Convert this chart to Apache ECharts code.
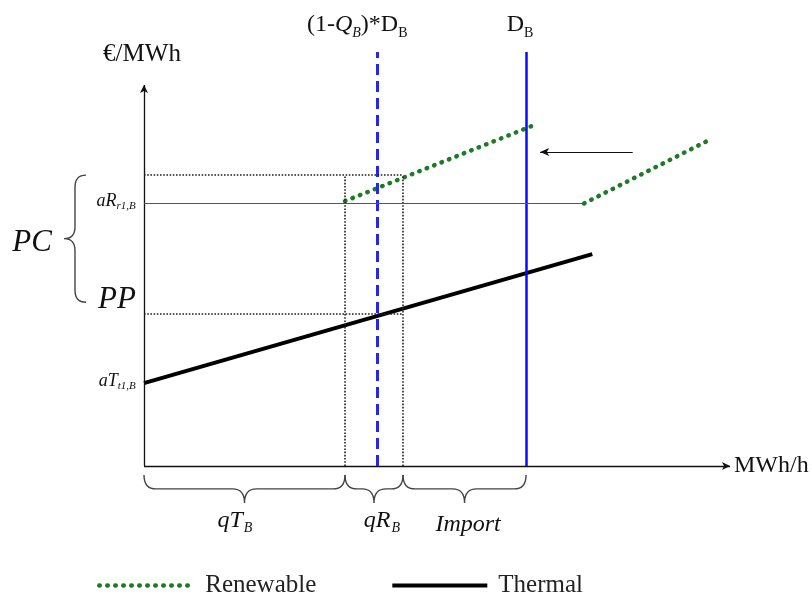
<!DOCTYPE html>
<html><head><meta charset="utf-8">
<script src="https://cdn.jsdelivr.net/npm/echarts@6/dist/echarts.min.js"></script>
<style>html,body{margin:0;padding:0;background:#fff}#c{width:812px;height:598px}</style>
</head><body><div id="c"></div>
<script>
// x: quantity (MWh/h, arbitrary 0-100), y: price (€/MWh, arbitrary 0-110)
const thermalX = [0, 76.5];
const thermalY = [21.4, 54.7];
const renewLeftX = [34.3, 66.7];
const renewLeftY = [68.4, 88.1];
const renewRightX = [75.1, 96.6];
const renewRightY = [67.8, 84.3];
const axisEndX = 100, axisEndY = 98.4;
const demandX = [39.8, 65.2];            // (1-Q_B)*D_B , D_B
const demandTopY = 106.9;
const demandLabels = ['{n|(1-}{i|Q}{is|B}{n|)*D}{s|B}', '{n|D}{s|B}'];
const quantityX = [34.3, 44.2];          // qT_B boundary, qT_B+qR_B boundary
const priceLevels = [75.1, 39.2];        // renewable price, PP
const aRLevel = 67.9, aRLineEnd = 75.3;
const shiftArrowX = [83.4, 67.6], shiftArrowY = 81.1;
// braces: [x1, y1, x2, y2]
const braces = [[0, -2.3, 34.3, -2.3], [34.3, -2.3, 44.2, -2.3], [44.2, -2.3, 65.2, -2.3], [-9.9, 75.1, -9.9, 42.3]];
// annotation texts
const noteText = ['{i|qT}{s|B}', '{i|qR}{s|B}', '{i|Import}', '{b|PC}', '{b|PP}', '{m|aR}{ms|r1,B}', '{m|aT}{ms|t1,B}'];
const noteX = [15.5, 40.6, 55.3, -19.1, -4.6, -1.4, -1.4];
const noteY = [-14.3, -14.3, -15.3, 57.6, 42.9, 68.2, 21.7];
const noteAlign = ['center', 'center', 'center', 'center', 'center', 'right', 'right'];

const FF = '"Liberation Serif", "DejaVu Serif", serif';
const zip = (a, b) => a.map((v, i) => [v, b[i]]);
const rich = {
  i: {fontStyle: 'italic', fontFamily: FF, fontSize: 24, color: '#111', verticalAlign: 'top', lineHeight: 26},
  s: {fontStyle: 'italic', fontFamily: FF, fontSize: 14, color: '#111', verticalAlign: 'top', lineHeight: 14, padding: [13, 0, 0, 1]},
  b: {fontStyle: 'italic', fontFamily: FF, fontSize: 31, color: '#111'},
  m: {fontStyle: 'italic', fontFamily: FF, fontSize: 18, color: '#111', verticalAlign: 'top', lineHeight: 20},
  ms: {fontStyle: 'italic', fontFamily: FF, fontSize: 11, color: '#111', verticalAlign: 'top', lineHeight: 11, padding: [9, 0, 0, 0]}
};
const topRich = {
  i: {fontStyle: 'italic', fontFamily: FF, fontSize: 24, color: '#111', verticalAlign: 'top', lineHeight: 26},
  s: {fontFamily: FF, fontSize: 14, color: '#111', verticalAlign: 'top', lineHeight: 14, padding: [13, 0, 0, 0]},
  is: {fontStyle: 'italic', fontFamily: FF, fontSize: 14, color: '#111', verticalAlign: 'top', lineHeight: 14, padding: [13, 0, 0, 0]},
  n: {fontFamily: FF, fontSize: 24, color: '#111', verticalAlign: 'top', lineHeight: 26}
};
const demandOffsets = [[-20, 0], [-6, 0]];

const lineData = [];
// axes
lineData.push([{coord: [0, 0], symbol: 'none'}, {coord: [axisEndX, 0], symbol: 'arrow', symbolSize: [6, 8],
  label: {show: true, position: 'end', formatter: 'MWh/h', fontFamily: FF, fontSize: 24, color: '#111', distance: 4}}]);
lineData.push([{coord: [0, 0], symbol: 'none'}, {coord: [0, axisEndY], symbol: 'arrow', symbolSize: [6, 8],
  label: {show: true, position: 'end', formatter: '€/MWh', fontFamily: FF, fontSize: 25, color: '#111', distance: 18, offset: [-2, 0]}}]);
// demand lines
demandX.forEach((x, i) => {
  lineData.push([{coord: [x, 0], symbol: 'none'}, {coord: [x, demandTopY], symbol: 'none',
    label: {show: true, position: 'end', distance: 13, offset: demandOffsets[i], formatter: demandLabels[i], rich: topRich},
    lineStyle: i === 0 ? {color: '#2626e8', width: 3, type: [11, 6]} : {color: '#0a0aff', width: 2.5, type: 'solid'}}]);
});
// dotted guides
priceLevels.forEach(y => {
  lineData.push([{coord: [0, y], symbol: 'none'}, {coord: [quantityX[1], y], symbol: 'none', lineStyle: {color: '#222', width: 1.6, type: [1.6, 1.6]}}]);
});
quantityX.forEach(x => {
  lineData.push([{coord: [x, 0], symbol: 'none'}, {coord: [x, priceLevels[0]], symbol: 'none', lineStyle: {color: '#222', width: 1.6, type: [1.6, 1.6]}}]);
});
// aR thin line
lineData.push([{coord: [0, aRLevel], symbol: 'none'}, {coord: [aRLineEnd, aRLevel], symbol: 'none', lineStyle: {color: '#555', width: 1, type: 'solid'}}]);
// shift arrow
lineData.push([{coord: [shiftArrowX[0], shiftArrowY], symbol: 'none'}, {coord: [shiftArrowX[1], shiftArrowY], symbol: 'arrow', symbolSize: [6, 9], lineStyle: {color: '#111', width: 1.2, type: 'solid'}}]);

function bracePath(a, b, depth) {
  const dx = b[0] - a[0], dy = b[1] - a[1];
  const L = Math.hypot(dx, dy);
  const ux = dx / L, uy = dy / L;
  const nx = -uy, ny = ux;
  const h = depth / 2, r = Math.min(12, L / 4);
  const P = (p, s, t) => [p[0] + ux * s + nx * t, p[1] + uy * s + ny * t];
  const m = [(a[0] + b[0]) / 2, (a[1] + b[1]) / 2];
  const f = p => p[0].toFixed(2) + ' ' + p[1].toFixed(2);
  return 'M' + f(a) +
    ' Q' + f(P(a, 0, h)) + ' ' + f(P(a, r, h)) +
    ' L' + f(P(m, -r, h)) +
    ' Q' + f(P(m, 0, h)) + ' ' + f(P(m, 0, depth)) +
    ' Q' + f(P(m, 0, h)) + ' ' + f(P(m, r, h)) +
    ' L' + f(P(b, -r, h)) +
    ' Q' + f(P(b, 0, h)) + ' ' + f(P(b, 0, 0));
}

const renewStyle = {color: '#1f7a28', width: 4.5, type: [0.5, 7.5], cap: 'round'};
const chart = echarts.init(document.getElementById('c'), null, {renderer: 'canvas'});
chart.setOption({
  animation: false,
  backgroundColor: '#fff',
  grid: {left: 144, right: 82, top: 40, bottom: 132},
  xAxis: {type: 'value', min: 0, max: 100, show: false},
  yAxis: {type: 'value', min: 0, max: 110, show: false},
  legend: {
    data: ['Renewable', 'Thermal'], left: 92, top: 568, itemWidth: 95, itemHeight: 14, itemGap: 74,
    itemStyle: {opacity: 0}, lineStyle: {width: 'inherit'},
    textStyle: {fontFamily: FF, fontSize: 25, color: '#222', padding: [0, 0, 0, 6]}
  },
  series: [
    {name: 'Renewable', type: 'line', data: zip(renewLeftX, renewLeftY), symbol: 'none', silent: true,
      lineStyle: renewStyle, itemStyle: {color: 'rgba(0,0,0,0)'}},
    {name: 'Renewable', type: 'line', data: zip(renewRightX, renewRightY), symbol: 'none', silent: true,
      lineStyle: renewStyle, itemStyle: {color: 'rgba(0,0,0,0)'}},
    {name: 'Thermal', type: 'line', data: zip(thermalX, thermalY), symbol: 'none', silent: true,
      lineStyle: {color: '#000', width: 4}, itemStyle: {color: 'rgba(0,0,0,0)'}},
    {name: 'guides', type: 'line', data: [], silent: true,
      markLine: {silent: true, animation: false, symbol: 'none', label: {show: false},
        lineStyle: {color: '#111', width: 1.3, type: 'solid'}, emphasis: {disabled: true}, data: lineData}},
    {name: 'braces', type: 'custom', data: braces, silent: true, clip: false,
      renderItem: (params, api) => {
        const a = api.coord([api.value(0), api.value(1)]);
        const b = api.coord([api.value(2), api.value(3)]);
        const vertical = Math.abs(b[0] - a[0]) < 1;
        return {type: 'path', shape: {pathData: bracePath(a, b, vertical ? 22 : 28)},
          style: {stroke: '#444', fill: null, lineWidth: 1.4}};
      }},
    {name: 'notes', type: 'custom', data: noteX.map((x, i) => [x, noteY[i], i]), silent: true, clip: false,
      renderItem: (params, api) => {
        const p = api.coord([api.value(0), api.value(1)]);
        const i = api.value(2);
        return {type: 'text', x: p[0], y: p[1],
          style: {text: noteText[i], rich: rich, align: noteAlign[i], verticalAlign: 'middle', fontFamily: FF, fill: '#111'}};
      }}
  ]
});
</script></body></html>
